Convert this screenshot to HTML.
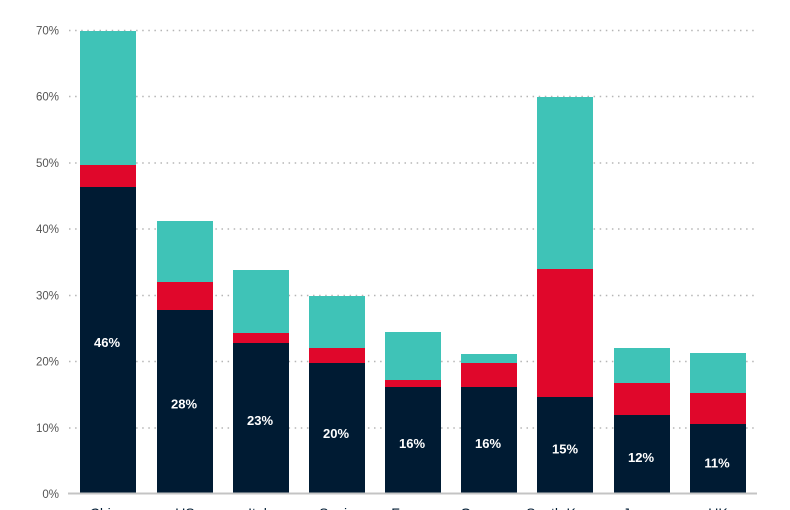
<!DOCTYPE html>
<html><head><meta charset="utf-8"><style>
html,body{margin:0;padding:0;background:#fff;}
svg{display:block;}
</style></head><body>
<svg width="790" height="510" viewBox="0 0 790 510" xmlns="http://www.w3.org/2000/svg" font-family="'Liberation Sans', sans-serif">
<g stroke="#b5b5b5" stroke-width="1.6" stroke-dasharray="1.5 4.6" fill="none">
<line x1="69" y1="30.5" x2="756" y2="30.5"/>
<line x1="69" y1="96.5" x2="756" y2="96.5"/>
<line x1="69" y1="163" x2="756" y2="163"/>
<line x1="69" y1="229" x2="756" y2="229"/>
<line x1="69" y1="295.5" x2="756" y2="295.5"/>
<line x1="69" y1="361.5" x2="756" y2="361.5"/>
<line x1="69" y1="428" x2="756" y2="428"/>
</g>
<g font-size="11.5" fill="#555" text-anchor="end">
<text x="59" y="34.5">70%</text>
<text x="59" y="100.5">60%</text>
<text x="59" y="167">50%</text>
<text x="59" y="233">40%</text>
<text x="59" y="299.5">30%</text>
<text x="59" y="365.5">20%</text>
<text x="59" y="432">10%</text>
<text x="59" y="498">0%</text>
</g>
<g>
<rect x="80" y="31" width="56" height="134" fill="#3fc3b7"/>
<rect x="80" y="165" width="56" height="22" fill="#e0072b"/>
<rect x="80" y="187" width="56" height="307" fill="#001b33"/>

<rect x="157" y="221" width="56" height="61" fill="#3fc3b7"/>
<rect x="157" y="282" width="56" height="28" fill="#e0072b"/>
<rect x="157" y="310" width="56" height="184" fill="#001b33"/>

<rect x="233" y="270" width="56" height="63" fill="#3fc3b7"/>
<rect x="233" y="333" width="56" height="10" fill="#e0072b"/>
<rect x="233" y="343" width="56" height="151" fill="#001b33"/>

<rect x="309" y="296" width="56" height="52" fill="#3fc3b7"/>
<rect x="309" y="348" width="56" height="15" fill="#e0072b"/>
<rect x="309" y="363" width="56" height="131" fill="#001b33"/>

<rect x="385" y="332" width="56" height="48" fill="#3fc3b7"/>
<rect x="385" y="380" width="56" height="7" fill="#e0072b"/>
<rect x="385" y="387" width="56" height="107" fill="#001b33"/>

<rect x="461" y="354" width="56" height="9" fill="#3fc3b7"/>
<rect x="461" y="363" width="56" height="24" fill="#e0072b"/>
<rect x="461" y="387" width="56" height="107" fill="#001b33"/>

<rect x="537" y="97" width="56" height="172" fill="#3fc3b7"/>
<rect x="537" y="269" width="56" height="128" fill="#e0072b"/>
<rect x="537" y="397" width="56" height="97" fill="#001b33"/>

<rect x="614" y="348" width="56" height="35" fill="#3fc3b7"/>
<rect x="614" y="383" width="56" height="32" fill="#e0072b"/>
<rect x="614" y="415" width="56" height="79" fill="#001b33"/>

<rect x="690" y="353" width="56" height="40" fill="#3fc3b7"/>
<rect x="690" y="393" width="56" height="31" fill="#e0072b"/>
<rect x="690" y="424" width="56" height="70" fill="#001b33"/>
</g>
<line x1="68" y1="493.5" x2="757" y2="493.5" stroke="#c4c4c4" stroke-width="2"/>
<g font-size="13" font-weight="bold" fill="#fff" text-anchor="middle">
<text x="107" y="347">46%</text>
<text x="184" y="408.5">28%</text>
<text x="260" y="425">23%</text>
<text x="336" y="438">20%</text>
<text x="412" y="448">16%</text>
<text x="488" y="448">16%</text>
<text x="565" y="453.5">15%</text>
<text x="641" y="462">12%</text>
<text x="717" y="467.5">11%</text>
</g>
<g font-size="14" fill="#001b33" text-anchor="middle">
<text x="108" y="518">China</text>
<text x="185" y="518">US</text>
<text x="261" y="518">Italy</text>
<text x="337" y="518">Spain</text>
<text x="413" y="518">France</text>
<text x="489" y="518">Germany</text>
<text x="565" y="518">South Korea</text>
<text x="642" y="518">Japan</text>
<text x="718" y="518">UK</text>
</g>
</svg>
</body></html>
